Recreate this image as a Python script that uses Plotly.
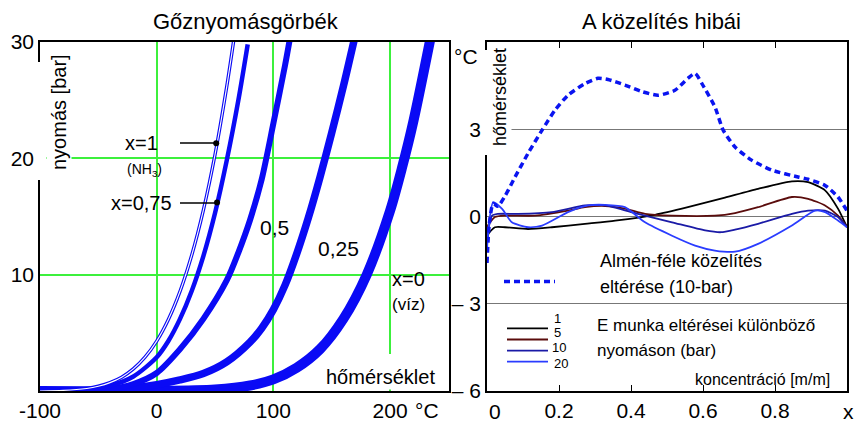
import plotly.graph_objects as go

W, H = 857, 423

# ---------------- data: left panel (temperature °C, pressure bar) ----------------
x1_T = [-100, -80, -60, -50, -40, -30, -20, -10, 0, 10, 20, 30, 40, 50, 60, 67]
x1_P = [0.0, 0.05, 0.22, 0.41, 0.72, 1.19, 1.9, 2.91, 4.29, 6.15, 8.57, 11.67, 15.55, 20.33, 26.15, 30.8]

x075_T = [-100, -60, -40, -20, 0, 10, 20, 30, 40, 50, 60, 70, 78]
x075_P = [0.0, 0.1, 0.45, 1.25, 2.9, 4.3, 6.2, 8.6, 11.6, 15.3, 19.8, 25.0, 29.8]

x05_T = [-100, -60, -40, -20, 0, 20, 40, 60, 70, 80, 90, 100, 110, 114]
x05_P = [0.0, 0.02, 0.15, 0.6, 1.55, 3.6, 6.2, 9.5, 11.9, 14.7, 18.2, 23.0, 28.0, 30.2]

x025_T = [-100, -40, 0, 20, 40, 60, 80, 90, 100, 110, 120, 130, 140, 150, 160, 170]
x025_P = [0.0, 0.05, 0.55, 0.95, 1.5, 2.5, 4.2, 5.4, 7.0, 9.1, 11.8, 14.9, 18.4, 22.2, 26.2, 30.5]

x0_T = [-100, 0, 50, 80, 100, 120, 140, 160, 180, 200, 210, 220, 235]
x0_P = [0.0, 0.0, 0.12, 0.47, 1.0, 2.0, 3.6, 6.2, 10.0, 15.5, 19.1, 23.2, 30.5]

left_xticks = [-100, 0, 100, 200]
left_xtext = ["-100", "0", "100", "200"]
left_yticks = [10, 20, 30]

# ---------------- data: right panel (concentration, error °C) ----------------
alm_x = [0, 0.006, 0.017, 0.03, 0.05, 0.078, 0.114, 0.153, 0.189, 0.225, 0.272, 0.308, 0.336,
         0.383, 0.431, 0.475, 0.522, 0.558, 0.578, 0.597, 0.633, 0.656, 0.689, 0.736, 0.792,
         0.864, 0.892, 0.939, 0.975, 1.0]
alm_y = [-1.6, -0.3, 0.45, 0.35, 0.7, 1.36, 2.17, 2.97, 3.66, 4.17, 4.57, 4.75, 4.71,
         4.52, 4.29, 4.17, 4.34, 4.75, 4.92, 4.57, 3.77, 2.97, 2.39, 1.93, 1.59,
         1.36, 1.28, 1.07, 0.67, 0.2]

b1_x = [0, 0.004, 0.022, 0.05, 0.114, 0.18, 0.272, 0.356, 0.467, 0.558, 0.661, 0.753,
        0.847, 0.892, 0.939, 0.975, 1.0]
b1_y = [-0.95, -0.6, -0.37, -0.37, -0.43, -0.37, -0.25, -0.14, 0.06, 0.32, 0.65, 0.95,
        1.21, 1.18, 0.9, 0.27, -0.37]

b5_x = [0, 0.003, 0.022, 0.05, 0.133, 0.225, 0.272, 0.328, 0.383, 0.439, 0.514, 0.633,
        0.689, 0.753, 0.847, 0.892, 0.939, 0.975, 1.0]
b5_y = [-0.6, -0.3, -0.02, 0.03, 0.03, 0.2, 0.32, 0.36, 0.27, 0.09, 0.03, 0.03,
        0.12, 0.32, 0.67, 0.61, 0.38, 0.03, -0.35]

b10_x = [0, 0.014, 0.03, 0.086, 0.18, 0.272, 0.328, 0.419, 0.514, 0.606, 0.65, 0.689,
         0.753, 0.847, 0.892, 0.939, 0.975, 1.0]
b10_y = [-0.75, 0.03, 0.09, 0.09, 0.15, 0.38, 0.38, 0.09, -0.2, -0.48, -0.54, -0.45,
         -0.25, 0.09, 0.2, 0.2, -0.02, -0.37]

b20_x = [0, 0.006, 0.017, 0.042, 0.069, 0.114, 0.153, 0.225, 0.281, 0.328, 0.383, 0.439,
         0.514, 0.578, 0.633, 0.689, 0.753, 0.847, 0.911, 0.939, 0.975, 1.0]
b20_y = [-1.1, -0.2, 0.49, 0.26, -0.2, -0.37, -0.31, 0.15, 0.38, 0.4, 0.32, -0.2,
         -0.66, -1.0, -1.17, -1.21, -0.94, -0.31, 0.2, 0.15, -0.14, -0.37]

right_xticks = [0.2, 0.4, 0.6, 0.8]
right_xtext = ["0.2", "0.4", "0.6", "0.8"]
right_yticks = [3, 0, -3, -6]
right_ytext = ["3", "0", "– 3", "– 6"]

FONT = "Arial, Liberation Sans, sans-serif"
BLUE = "#0a0af5"
GREEN = "rgb(60,240,60)"


def px(x):
    return x / W


def py(y):
    return 1 - y / H


fig = go.Figure()

# left panel curves
left_curves = [(x0_T, x0_P, 10), (x025_T, x025_P, 7.5), (x05_T, x05_P, 6), (x075_T, x075_P, 4.5)]
for T, P, w in left_curves:
    fig.add_trace(go.Scatter(x=T, y=P, mode="lines", xaxis="x", yaxis="y",
                             line=dict(color=BLUE, width=w, shape="spline", smoothing=0.8),
                             showlegend=False, hoverinfo="skip"))
fig.add_trace(go.Scatter(x=x1_T, y=x1_P, mode="lines", xaxis="x", yaxis="y",
                         line=dict(color=BLUE, width=3.4, shape="spline", smoothing=0.8),
                         showlegend=False, hoverinfo="skip"))
fig.add_trace(go.Scatter(x=x1_T, y=x1_P, mode="lines", xaxis="x", yaxis="y",
                         line=dict(color="white", width=1.1, shape="spline", smoothing=0.8),
                         showlegend=False, hoverinfo="skip"))

# right panel curves
right_curves = [(b1_x, b1_y, "#000000"), (b5_x, b5_y, "#5a0c0c"),
                (b10_x, b10_y, "#1a1aa6"), (b20_x, b20_y, "#2a3cff")]
for xs, ys, c in right_curves:
    fig.add_trace(go.Scatter(x=xs, y=ys, mode="lines", xaxis="x2", yaxis="y2",
                             line=dict(color=c, width=1.8, shape="spline", smoothing=0.6),
                             showlegend=False, hoverinfo="skip"))
fig.add_trace(go.Scatter(x=alm_x, y=alm_y, mode="lines", xaxis="x2", yaxis="y2",
                         line=dict(color="#0a14f0", width=3.5, dash="6px,4px", shape="spline", smoothing=0.6),
                         showlegend=False, hoverinfo="skip"))

# pointer dots for x=1 and x=0,75
fig.add_trace(go.Scatter(x=[51, 51.7], y=[21.3, 16.2], mode="markers", xaxis="x", yaxis="y",
                         marker=dict(color="black", size=6), showlegend=False, hoverinfo="skip"))

shapes = []
annotations = []

# pointer lines
shapes.append(dict(type="line", xref="paper", yref="paper", x0=px(180), x1=px(216), y0=py(143), y1=py(143),
                   line=dict(color="black", width=1.3)))
shapes.append(dict(type="line", xref="paper", yref="paper", x0=px(180), x1=px(217), y0=py(203), y1=py(203),
                   line=dict(color="black", width=1.3)))

# white boxes behind rotated labels / bottom text (gaps in frame & grid)
for (a, b, c, d) in [(36, 62, 46, 180), (483, 50, 492, 155), (381, 354, 399, 389)]:
    shapes.append(dict(type="rect", xref="paper", yref="paper", x0=px(a), x1=px(c), y0=py(d), y1=py(b),
                       fillcolor="white", line=dict(width=0), layer="above"))

# legend lines on right panel
shapes.append(dict(type="line", xref="paper", yref="paper", x0=px(504), x1=px(555), y0=py(281.5), y1=py(281.5),
                   line=dict(color="#0a14f0", width=3.5, dash="6px,4px")))
for yy, c in [(328.3, "#000000"), (339.5, "#5a0c0c"), (350.7, "#1a1aa6"), (361.7, "#2a3cff")]:
    shapes.append(dict(type="line", xref="paper", yref="paper", x0=px(507), x1=px(548), y0=py(yy), y1=py(yy),
                       line=dict(color=c, width=1.8)))


def txt(t, x, y, size, xanchor="center", angle=0, bg=None):
    d = dict(text=t, x=px(x), y=py(y), xref="paper", yref="paper", showarrow=False,
             xanchor=xanchor, yanchor="middle", textangle=angle,
             font=dict(family=FONT, size=size, color="black"))
    if bg:
        d["bgcolor"] = bg
    annotations.append(d)


# titles
txt("Gőznyomásgörbék", 246, 22, 22)
txt("A közelítés hibái", 661, 22, 22)

# left annotations
txt("nyomás [bar]", 59, 112, 20, angle=-90, bg="white")
txt("x=1", 160, 143, 20, xanchor="right")
txt("(NH<sub>3</sub>)", 144, 170, 14)
txt("x=0,75", 174, 203, 20, xanchor="right")
txt("0,5", 274, 227, 21)
txt("0,25", 338, 249, 21)
txt("x=0", 390, 279, 20, xanchor="left")
txt("(víz)", 390, 304, 17, xanchor="left")
txt("hőmérséklet", 380, 377, 20, bg="white")
txt("°C", 427, 410, 21)

# right annotations
txt("°C", 466, 57, 21)
txt("hőmérséklet", 500, 97, 18, angle=-90, bg="white")
txt("Almén-féle közelítés", 598, 261, 18, xanchor="left")
txt("eltérése (10-bar)", 598, 287, 18, xanchor="left")
txt("E munka eltérései különböző", 595, 325, 17, xanchor="left")
txt("nyomáson (bar)", 595, 350, 17, xanchor="left")
txt("1", 557, 318, 13)
txt("5", 557, 332, 13)
txt("10", 559, 347, 13)
txt("20", 561, 363, 13)
txt("koncentráció [m/m]", 762, 379, 16)
txt("0", 495, 411, 21)
txt("x", 848, 411, 21)

fig.update_layout(
    width=W, height=H, autosize=False,
    margin=dict(l=0, r=0, t=0, b=0, autoexpand=False),
    paper_bgcolor="white", plot_bgcolor="white",
    font=dict(family=FONT, color="black"),
    shapes=shapes, annotations=annotations,
    xaxis=dict(domain=[px(40), px(449)], range=[-100, 250.5], anchor="y", automargin=False,
               tickvals=left_xticks, ticktext=left_xtext, ticks="",
               showgrid=True, gridcolor=GREEN, gridwidth=1.5, zeroline=False,
               showline=True, linecolor="black", linewidth=1.5, mirror=True,
               tickfont=dict(size=21, family=FONT)),
    yaxis=dict(domain=[py(391), py(42)], range=[0, 30], anchor="x", automargin=False,
               tickvals=left_yticks, ticks="",
               showgrid=True, gridcolor=GREEN, gridwidth=1.5, zeroline=False,
               showline=True, linecolor="black", linewidth=1.5, mirror=True,
               tickfont=dict(size=21, family=FONT)),
    xaxis2=dict(domain=[px(487), px(847)], range=[0, 1], anchor="y2", automargin=False,
                tickvals=right_xticks, ticktext=right_xtext, ticks="inside", ticklen=6,
                tickcolor="black", showgrid=False, zeroline=False,
                showline=True, linecolor="black", linewidth=1.5, mirror="ticks",
                tickfont=dict(size=21, family=FONT)),
    yaxis2=dict(domain=[py(391), py(42)], range=[-6, 6], anchor="x2", automargin=False,
                tickvals=right_yticks, ticktext=right_ytext, ticks="",
                showgrid=True, gridcolor="#777777", gridwidth=1, zeroline=False,
                showline=True, linecolor="black", linewidth=1.5, mirror=True,
                tickfont=dict(size=21, family=FONT)),
)

fig.write_html("out.html", config={"displayModeBar": False},
               post_script="document.body.style.margin='0px';document.body.style.overflow='hidden';")
